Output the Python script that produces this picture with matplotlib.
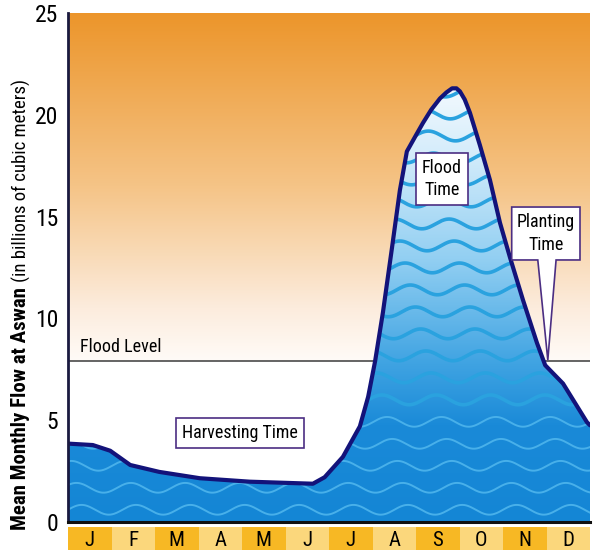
import numpy as np
import matplotlib
matplotlib.use("Agg")
import matplotlib.pyplot as plt
from matplotlib.colors import LinearSegmentedColormap
from matplotlib.patches import Polygon

plt.rcParams['font.family'] = ['Roboto Condensed', 'Roboto', 'DejaVu Sans']

# data (x in months, 0 = start of Jan, 12 = end of Dec)
months = ['J', 'F', 'M', 'A', 'M', 'J', 'J', 'A', 'S', 'O', 'N', 'D']
flow_x = [0.0, 0.57, 0.97, 1.43, 2.1, 3.03, 4.18, 5.63, 5.9, 6.32, 6.71, 6.9,
          7.06, 7.24, 7.45, 7.63, 7.79, 8.0, 8.16, 8.35, 8.55, 8.7, 8.83, 8.93,
          9.01, 9.12, 9.24, 9.47, 9.7, 9.93, 10.16, 10.46, 10.78, 10.97, 11.38,
          11.93, 12.0]
flow_y = [3.85, 3.78, 3.5, 2.8, 2.46, 2.15, 1.98, 1.88, 2.2, 3.2, 4.7, 6.15,
          7.9, 10.3, 13.5, 16.3, 18.2, 19.0, 19.6, 20.25, 20.8, 21.1, 21.3, 21.3,
          21.15, 20.75, 20.1, 18.5, 16.8, 14.7, 13.0, 10.9, 8.8, 7.7, 6.8,
          4.9, 4.75]
flood_level = 7.9

fig = plt.figure(figsize=(5.96, 5.5), dpi=100)
ax = fig.add_axes([68/596, 1-522/550, 522/596, 509/550])
ax.set_xlim(0, 12)
ax.set_ylim(0, 25)

# orange sky above flood level
sky = LinearSegmentedColormap.from_list('sky', [(0, '#fffbf7'), (0.15, '#fcecdd'),
                                               (0.5, '#f5c487'), (1, '#ec952a')])
grad = np.linspace(0, 1, 256).reshape(-1, 1)
ax.imshow(grad, extent=[0, 12, flood_level, 25], origin='lower', aspect='auto',
          cmap=sky, zorder=0)

ax.plot([0, 12], [flood_level, flood_level], color='#3a3a3a', lw=1.1, zorder=1)
ax.text(0.28, flood_level + 0.25, 'Flood Level', fontsize=13, va='bottom', zorder=1)

# water under the curve
xs = np.array(flow_x)
ys = np.array(flow_y)
poly = Polygon(np.column_stack([np.r_[xs, 12, 0], np.r_[ys, 0, 0]]), closed=True,
               facecolor='none', edgecolor='none')
ax.add_patch(poly)
water = LinearSegmentedColormap.from_list('water', [(0, '#1486d5'), (0.22, '#1a8ad8'),
                                                   (0.36, '#3fa3e2'), (0.6, '#92cff2'),
                                                   (0.85, '#d6edfb'), (1, '#f4fafe')])
wimg = ax.imshow(grad, extent=[0, 12, 0, 21.5], origin='lower', aspect='auto',
                 cmap=water, zorder=2)
wimg.set_clip_path(poly)

wx = np.linspace(0, 12, 600)
for k, y0 in enumerate(np.arange(0.6, 21.5, 1.08)):
    wy = y0 + 0.24 * np.sin(2 * np.pi * wx / 1.25 + k * 0.6)
    if y0 < 6:
        col, lw = '#48b0ea', 1.4
    else:
        col, lw = '#2aa2df', 2.6
    ln, = ax.plot(wx, wy, color=col, lw=lw, zorder=3)
    ln.set_clip_path(poly)

ax.plot(xs, ys, color='#13137a', lw=3, zorder=4, solid_capstyle='round',
        solid_joinstyle='round')

# labels
box = dict(boxstyle='square,pad=0.35', facecolor='white', edgecolor='#4b2e83', lw=1.2)
ax.text(3.95, 4.37, 'Harvesting Time', fontsize=13, ha='center', va='center',
        bbox=box, zorder=5)
ax.text(8.6, 16.85, 'Flood\nTime', fontsize=13, ha='center', va='center',
        linespacing=1.3, bbox=box, zorder=5)
callout = Polygon([(10.2, 15.47), (11.77, 15.47), (11.77, 12.87), (11.22, 12.87),
                   (11.03, flood_level + 0.05), (10.8, 12.87), (10.2, 12.87)],
                  closed=True, facecolor='white', edgecolor='#4b2e83', lw=1.2, zorder=5)
ax.add_patch(callout)
ax.text(10.985, 14.17, 'Planting\nTime', fontsize=13, ha='center', va='center',
        linespacing=1.3, zorder=6)

ax.set_xticks([])
ax.set_yticks(range(0, 26, 5))
ax.tick_params(axis='y', length=0, pad=7, labelsize=17)
for s in ['top', 'right']:
    ax.spines[s].set_visible(False)
ax.spines['left'].set_color('#1a1a40')
ax.spines['left'].set_linewidth(2)
ax.spines['bottom'].set_color('#101010')
ax.spines['bottom'].set_linewidth(2.2)
ax.spines['left'].set_zorder(7)
ax.spines['bottom'].set_zorder(7)

# month band
bax = fig.add_axes([68/596, 0, 522/596, 23/550])
bax.set_xlim(0, 12)
bax.set_ylim(0, 1)
band_cols = ['#f7b824' if i % 2 == 0 else '#fbd77c' for i in range(12)]
bax.bar(np.arange(12) + 0.5, [1] * 12, width=1.0, color=band_cols)
for i, m in enumerate(months):
    bax.text(i + 0.5, 0.42, m, fontsize=15, ha='center', va='center')
bax.axis('off')

# y label, bold part then normal part right after it
t1 = fig.text(21/596, 1-530/550, 'Mean Monthly Flow at Aswan', rotation=90,
              fontsize=15, fontweight='bold', ha='left', va='center',
              rotation_mode='anchor')
fig.canvas.draw()
bb = t1.get_window_extent()
fig.text(21/596, (bb.y1 + 5) / 550, '(in billions of cubic meters)', rotation=90,
         fontsize=13.5, ha='left', va='center', rotation_mode='anchor')

fig.savefig('out.png', dpi=100)
